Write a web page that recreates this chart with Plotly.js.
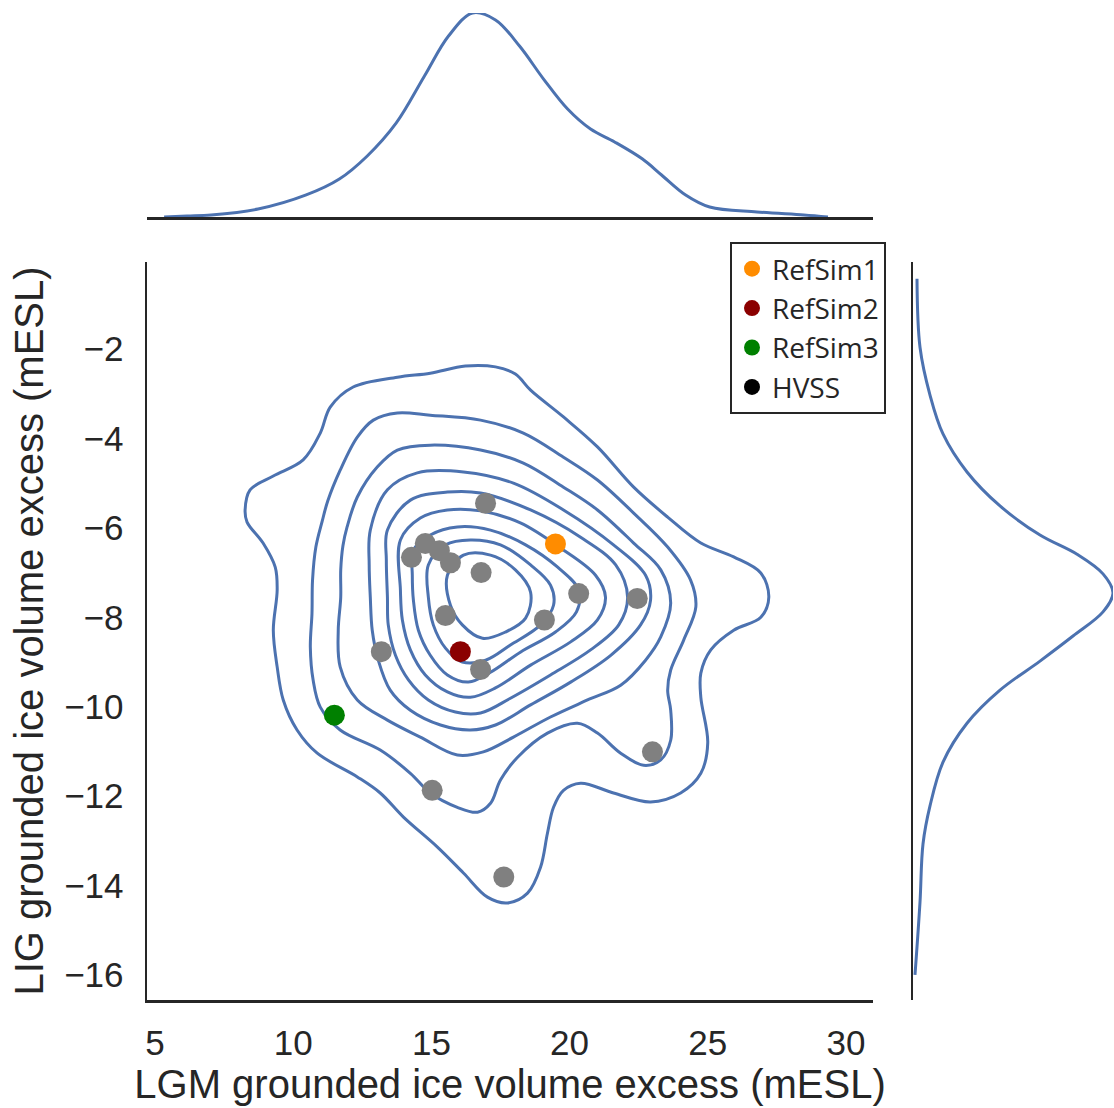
<!DOCTYPE html>
<html><head><meta charset="utf-8">
<script src="https://cdn.plot.ly/plotly-3.0.1.min.js"></script>
<style>html,body{margin:0;padding:0;background:#fff}</style>
</head><body><div id="chart" style="width:1114px;height:1108px"></div>
<script>
// Ensemble members (grey points)
const simX = [16.96, 14.28, 14.78, 15.29, 15.69, 16.80, 15.51, 20.33, 22.45, 19.09, 16.78, 13.19, 23.00, 15.03, 17.62];
const simY = [-5.45, -6.66, -6.35, -6.51, -6.78, -7.00, -7.96, -7.47, -7.58, -8.06, -9.17, -8.77, -11.01, -11.87, -13.81];
// Reference simulations
const refSim1X = [19.49], refSim1Y = [-6.36];
const refSim2X = [16.05], refSim2Y = [-8.77];
const refSim3X = [11.49], refSim3Y = [-10.19];
const hvssX = [null], hvssY = [null];
const xTicks = [5, 10, 15, 20, 25, 30];
const yTicks = [-2, -4, -6, -8, -10, -12, -14, -16];
const xTitle = "LGM grounded ice volume excess (mESL)";
const yTitle = "LIG grounded ice volume excess (mESL)";

// KDE contour lines (iso-proportion levels), outermost first
const c1x = [8.26, 8.44, 9.28, 10.36, 10.98, 11.34, 12.17, 13.77, 14.96, 16.23, 17.32, 18.04, 18.59, 19.78, 21.01, 22.32, 23.55, 24.75, 25.94, 26.92, 27.21, 26.92, 25.94, 25.11, 24.75, 24.75, 25.0, 24.75, 24.02, 22.93, 21.59, 20.40, 19.78, 19.42, 19.20, 18.95, 18.48, 17.75, 17.03, 16.16, 15.22, 13.99, 13.15, 12.32, 10.87, 10.14, 9.64, 9.42, 9.28, 9.42, 9.35, 8.91, 8.33];
const c1y = [-5.60, -5.15, -4.84, -4.48, -3.88, -3.30, -2.85, -2.63, -2.54, -2.38, -2.40, -2.56, -2.92, -3.52, -4.19, -5.09, -5.76, -6.34, -6.65, -7.01, -7.55, -8.00, -8.29, -8.73, -9.25, -9.79, -10.81, -11.49, -11.93, -12.13, -11.93, -11.71, -11.87, -12.25, -12.83, -13.59, -14.17, -14.39, -14.26, -13.72, -13.14, -12.47, -11.93, -11.57, -11.04, -10.52, -9.85, -9.11, -8.29, -7.39, -6.88, -6.34, -5.87];
const c2x = [11.05, 11.25, 11.70, 12.32, 12.90, 13.77, 14.96, 16.78, 18.33, 19.78, 21.01, 22.32, 23.55, 24.38, 24.57, 24.13, 23.66, 23.55, 23.66, 23.66, 23.30, 22.68, 21.85, 21.01, 20.29, 19.20, 18.12, 17.50, 17.14, 16.67, 15.94, 14.96, 14.24, 13.15, 11.70, 10.98, 10.72, 10.62, 10.68, 10.70, 10.82];
const c2y = [-5.85, -5.40, -4.71, -3.97, -3.59, -3.43, -3.48, -3.59, -3.88, -4.42, -4.93, -5.67, -6.43, -7.17, -7.77, -8.51, -9.18, -9.63, -10.08, -10.75, -11.19, -11.31, -11.04, -10.59, -10.37, -10.59, -11.13, -11.64, -12.16, -12.36, -12.25, -11.93, -11.49, -10.97, -10.52, -10.01, -9.40, -8.67, -7.91, -7.17, -6.43];
const c3x = [11.95, 12.32, 13.04, 13.77, 14.96, 16.78, 18.33, 19.78, 21.01, 22.32, 23.30, 23.66, 23.30, 22.75, 21.85, 20.65, 19.31, 17.97, 16.88, 15.94, 14.60, 13.41, 12.32, 11.70, 11.63, 11.72, 11.72, 11.80];
const c3y = [-5.98, -5.31, -4.64, -4.26, -4.15, -4.26, -4.55, -5.09, -5.60, -6.34, -6.94, -7.68, -8.44, -8.96, -9.52, -9.85, -10.23, -10.68, -11.01, -11.08, -10.68, -10.30, -9.85, -9.11, -8.29, -7.55, -6.94, -6.40];
const c4x = [12.79, 13.41, 14.49, 16.16, 17.97, 19.78, 21.59, 22.75, 22.93, 22.57, 21.49, 20.04, 18.59, 17.32, 16.41, 15.33, 14.24, 13.51, 13.08, 12.86, 12.79, 12.75];
const c4y = [-6.05, -5.15, -4.77, -4.75, -5.00, -5.60, -6.38, -7.06, -7.62, -8.17, -8.85, -9.45, -9.96, -10.41, -10.52, -10.41, -10.08, -9.63, -8.96, -8.29, -7.55, -6.83];
const c5x = [13.41, 14.24, 15.58, 16.78, 18.59, 20.40, 21.67, 22.10, 21.78, 20.76, 19.31, 17.86, 16.78, 15.87, 14.89, 14.17, 13.70, 13.44, 13.41, 13.37];
const c5y = [-6.05, -5.38, -5.20, -5.22, -5.60, -6.21, -6.83, -7.55, -8.17, -8.73, -9.29, -9.81, -10.14, -10.12, -9.85, -9.40, -8.85, -8.17, -7.55, -6.72];
const c6x = [13.88, 14.60, 15.58, 16.78, 18.22, 19.67, 20.94, 21.30, 21.01, 20.04, 18.59, 17.32, 16.41, 15.58, 14.78, 14.24, 13.95, 13.88];
const c6y = [-6.27, -5.78, -5.60, -5.62, -5.89, -6.45, -7.06, -7.55, -8.06, -8.55, -9.07, -9.58, -9.79, -9.67, -9.29, -8.73, -8.06, -7.39];
const c7x = [14.35, 14.96, 15.94, 17.14, 18.41, 19.57, 20.33, 20.25, 19.49, 18.22, 17.14, 16.34, 15.58, 14.96, 14.53, 14.35, 14.31];
const c7y = [-6.50, -6.16, -5.98, -6.05, -6.38, -6.88, -7.39, -7.88, -8.33, -8.78, -9.23, -9.45, -9.29, -8.85, -8.29, -7.62, -7.06];
const c8x = [14.89, 15.51, 16.41, 17.50, 18.59, 19.31, 19.42, 18.95, 17.86, 16.96, 16.12, 15.51, 15.07, 14.89];
const c8y = [-6.83, -6.38, -6.27, -6.38, -6.83, -7.28, -7.73, -8.17, -8.62, -8.96, -9.00, -8.69, -8.17, -7.55];
const c9x = [15.58, 16.16, 17.14, 18.04, 18.59, 18.41, 17.68, 16.85, 16.12, 15.69];
const c9y = [-7.06, -6.61, -6.61, -6.94, -7.44, -8.02, -8.33, -8.47, -8.17, -7.73];
const contourX = [c1x, c2x, c3x, c4x, c5x, c6x, c7x, c8x, c9x];
const contourY = [c1y, c2y, c3y, c4y, c5y, c6y, c7y, c8y, c9y];

// Marginal KDE curves (relative density)
const topX = [5.33, 6.16, 7.03, 8.73, 10.47, 11.67, 12.68, 13.73, 14.75, 15.62, 16.49, 17.32, 18.19, 19.06, 19.93, 20.76, 21.63, 22.64, 23.33, 24.20, 25.07, 26.78, 28.48, 29.35];
const topD = [0.0, 0.005, 0.010, 0.039, 0.108, 0.186, 0.299, 0.461, 0.691, 0.887, 1.0, 0.966, 0.838, 0.676, 0.529, 0.431, 0.368, 0.284, 0.206, 0.108, 0.049, 0.025, 0.010, 0.0];
const rightY = [-0.43, -1.96, -3.03, -3.90, -4.75, -5.51, -6.16, -6.59, -7.03, -7.46, -7.88, -8.42, -8.98, -9.63, -10.37, -11.24, -12.22, -13.07, -14.37, -16.0];
const rightD = [0.02, 0.035, 0.085, 0.15, 0.27, 0.435, 0.635, 0.82, 0.95, 1.0, 0.95, 0.80, 0.635, 0.435, 0.27, 0.15, 0.085, 0.05, 0.035, 0.01];

const blue = '#4c72b0';
const traces = [];
contourX.forEach((cx, i) => {
  const cy = contourY[i];
  traces.push({type: 'scatter', mode: 'lines', x: cx.concat([cx[0]]), y: cy.concat([cy[0]]), xaxis: 'x', yaxis: 'y',
    showlegend: false, hoverinfo: 'skip', line: {color: blue, width: 3, shape: 'spline', smoothing: 1}});
});
traces.push(
  {type: 'scatter', mode: 'markers', x: simX, y: simY, showlegend: false, marker: {color: 'grey', size: 21}, xaxis: 'x', yaxis: 'y'},
  {type: 'scatter', mode: 'markers', name: 'RefSim1', x: refSim1X, y: refSim1Y, marker: {color: 'darkorange', size: 21}},
  {type: 'scatter', mode: 'markers', name: 'RefSim2', x: refSim2X, y: refSim2Y, marker: {color: 'darkred', size: 21}},
  {type: 'scatter', mode: 'markers', name: 'RefSim3', x: refSim3X, y: refSim3Y, marker: {color: 'green', size: 21}},
  {type: 'scatter', mode: 'markers', name: 'HVSS', x: hvssX, y: hvssY, marker: {color: 'black', size: 21}},
  {type: 'scatter', mode: 'lines', x: topX, y: topD, xaxis: 'x2', yaxis: 'y2', showlegend: false, line: {color: blue, width: 3, shape: 'spline', smoothing: 1}, hoverinfo: 'skip'},
  {type: 'scatter', mode: 'lines', x: rightD, y: rightY, xaxis: 'x3', yaxis: 'y3', showlegend: false, line: {color: blue, width: 3, shape: 'spline', smoothing: 1}, hoverinfo: 'skip'}
);

const W = 1114, H = 1108;
const px = v => v / W, py = v => 1 - v / H;
const fam = 'Liberation Sans, Arial, sans-serif';
const axisFont = {family: fam, size: 35, color: '#262626'};
const titleFont = {family: fam, size: 40, color: '#262626'};
const lineC = '#262626';
const layout = {
  width: W, height: H, margin: {l: 0, r: 0, t: 0, b: 0}, paper_bgcolor: '#fff', plot_bgcolor: 'rgba(0,0,0,0)',
  showlegend: true,
  xaxis: {domain: [px(147), px(873)], range: [4.71, 30.98], anchor: 'y', showline: true, linecolor: lineC, linewidth: 2.5,
          showgrid: false, zeroline: false, ticks: '', tickvals: xTicks, tickfont: axisFont, ticklabelstandoff: 10,
          title: {text: xTitle, font: titleFont, standoff: 6}},
  yaxis: {domain: [py(1000), py(262)], range: [-16.56, -0.054], anchor: 'x', showline: true, linecolor: lineC, linewidth: 2.5,
          showgrid: false, zeroline: false, ticks: '', tickvals: yTicks, tickfont: axisFont, ticklabelstandoff: 14,
          title: {text: yTitle, font: titleFont, standoff: 8}},
  xaxis2: {domain: [px(147), px(873)], matches: 'x', anchor: 'y2', showline: true, linecolor: lineC, linewidth: 2.5,
           showgrid: false, zeroline: false, showticklabels: false, ticks: ''},
  yaxis2: {domain: [py(217), py(13)], range: [0, 1], anchor: 'x2', visible: false},
  xaxis3: {domain: [px(913), px(1113)], range: [0, 1], anchor: 'y3', visible: false},
  yaxis3: {domain: [py(1000), py(262)], matches: 'y', anchor: 'x3', showline: true, linecolor: lineC, linewidth: 2.5,
           showgrid: false, zeroline: false, showticklabels: false, ticks: ''},
  legend: {x: px(730), y: py(242), xanchor: 'left', yanchor: 'top', bgcolor: '#fff', bordercolor: lineC, borderwidth: 2,
           font: {family: 'Open Sans, Noto Sans, sans-serif', size: 28, color: '#262626'}, itemwidth: 30, tracegroupgap: 0}
};
Plotly.newPlot('chart', traces, layout, {staticPlot: true});
</script></body></html>
